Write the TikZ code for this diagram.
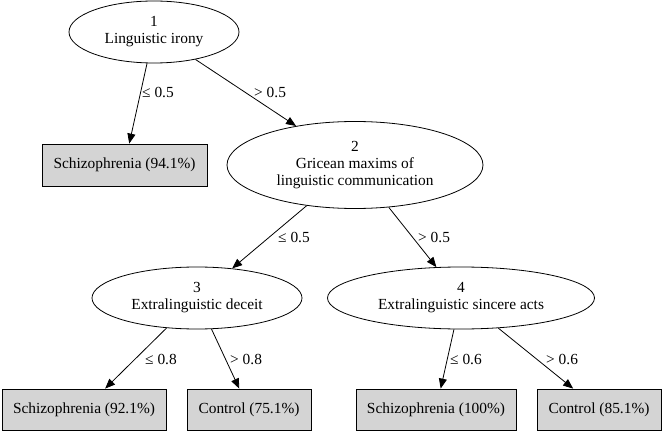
\documentclass[tikz,border=0pt]{standalone}
\usepackage{fontspec}
\setmainfont{Liberation Serif}
\usetikzlibrary{shapes.geometric,arrows.meta}
\begin{document}
\begin{tikzpicture}[x=1pt,y=-1pt,
  every node/.style={font=\fontsize{15.4}{17}\selectfont},
  split/.style={draw, line width=0.8pt, ellipse, inner sep=0pt, align=center},
  leaf/.style={draw, line width=0.8pt, rectangle, fill=black!17, inner sep=0pt, minimum height=41pt},
  lbl/.style={anchor=west, inner sep=0pt},
  edge/.style={draw, line width=0.8pt, -{Triangle[length=10pt,width=8pt]}}]
\useasboundingbox (0,0) rectangle (662,433);
% inner nodes
\node[split, minimum width=170pt, minimum height=62pt] (n1) at (154,32) {1\\Linguistic irony};
\node[split, minimum width=256pt, minimum height=87pt] (n2) at (355,165) {2\\Gricean maxims of\\linguistic communication};
\node[split, minimum width=210pt, minimum height=62pt] (n3) at (197,298) {3\\Extralinguistic deceit};
\node[split, minimum width=267pt, minimum height=62pt] (n4) at (461,298) {4\\Extralinguistic sincere acts};
% leaves
\node[leaf, minimum width=165pt, minimum height=42pt] (l1) at (124.5,165) {Schizophrenia (94.1\%)};
\node[leaf, minimum width=164pt] (l2) at (84,409.5) {Schizophrenia (92.1\%)};
\node[leaf, minimum width=124pt] (l3) at (249,409.5) {Control (75.1\%)};
\node[leaf, minimum width=160pt] (l4) at (436,409.5) {Schizophrenia (100\%)};
\node[leaf, minimum width=124pt] (l5) at (599,409.5) {Control (85.1\%)};
% edges
\draw[edge] (n1) -- (l1);
\draw[edge] (n1) -- (n2);
\draw[edge] (n2) -- (n3);
\draw[edge] (n2) -- (n4);
\draw[edge] (n3) -- (l2);
\draw[edge] (n3) -- (l3);
\draw[edge] (n4) -- (l4);
\draw[edge] (n4) -- (l5);
% edge labels
\node[lbl] (e1) at (142,92) {≤ 0.5};
\node[lbl] (e2) at (254,92) {> 0.5};
\node[lbl] (e3) at (278,237) {≤ 0.5};
\node[lbl] (e4) at (418,237) {> 0.5};
\node[lbl] (e5) at (145,359) {≤ 0.8};
\node[lbl] (e6) at (230,359) {> 0.8};
\node[lbl] (e7) at (450,359) {≤ 0.6};
\node[lbl] (e8) at (546,359) {> 0.6};
\end{tikzpicture}
\end{document}
